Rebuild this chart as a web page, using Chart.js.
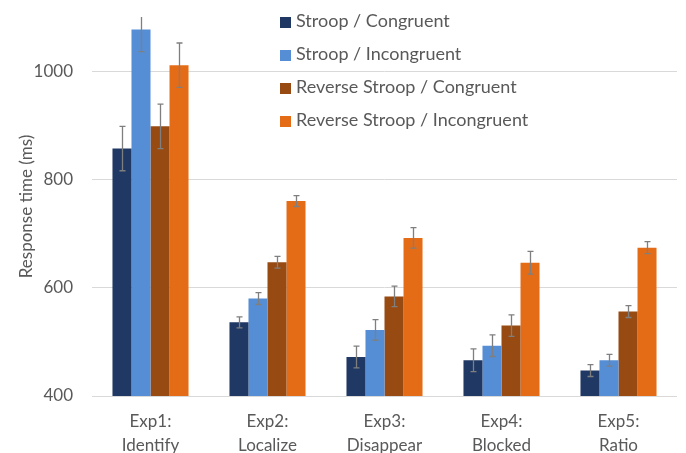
<!DOCTYPE html>
<html>
<head>
<meta charset="utf-8">
<script src="https://cdn.jsdelivr.net/npm/chart.js@4.4.1/dist/chart.umd.min.js"></script>
<style>
  html, body { margin: 0; padding: 0; background: #fff; }
  #wrap { position: relative; width: 686px; height: 453px; }
  #legend { position: absolute; left: 280px; top: 7px; font-family: Lato, sans-serif; font-size: 18px; color: #595959; }
  #legend .row { height: 33px; line-height: 26px; white-space: nowrap; }
  #legend .sw { display: inline-block; width: 11px; height: 11px; margin-right: 5px; vertical-align: -1px; }
</style>
</head>
<body>
<div id="wrap">
  <canvas id="chart" width="686" height="453"></canvas>
  <div id="legend"></div>
</div>
<script>
const categories = [['Exp1:', 'Identify'], ['Exp2:', 'Localize'], ['Exp3:', 'Disappear'], ['Exp4:', 'Blocked'], ['Exp5:', 'Ratio']];
const seriesNames = ['Stroop / Congruent', 'Stroop / Incongruent', 'Reverse Stroop / Congruent', 'Reverse Stroop / Incongruent'];
const seriesColors = ['#1F3864', '#558ED5', '#974A12', '#E46C17'];

const stroopCongruent = [857, 536, 472, 466, 447];
const stroopIncongruent = [1077, 580, 522, 493, 466];
const reverseCongruent = [898, 647, 584, 530, 556];
const reverseIncongruent = [1011, 760, 692, 646, 674];

// error bar half-lengths (ms)
const stroopCongruentErr = [41, 10, 20, 21, 11];
const stroopIncongruentErr = [41, 11, 19, 20, 11];
const reverseCongruentErr = [41, 11, 19, 20, 11];
const reverseIncongruentErr = [41, 10, 19, 21, 11];

const yTicks = [400, 600, 800, 1000];

const values = [stroopCongruent, stroopIncongruent, reverseCongruent, reverseIncongruent];
const errors = [stroopCongruentErr, stroopIncongruentErr, reverseCongruentErr, reverseIncongruentErr];

const textColor = '#595959';
const font = { family: 'Lato, sans-serif', size: 17 };

// draws the error bars from the bar elements + y scale, clipped to the plot area like Excel
const errorBars = {
  id: 'errorBars',
  afterDatasetsDraw(chart) {
    const { ctx, chartArea, scales: { y } } = chart;
    ctx.save();
    ctx.beginPath();
    ctx.rect(chartArea.left, chartArea.top, chartArea.right - chartArea.left, chartArea.bottom - chartArea.top);
    ctx.clip();
    ctx.strokeStyle = '#7F7F7F';
    ctx.lineWidth = 1.3;
    chart.data.datasets.forEach((ds, i) => {
      const meta = chart.getDatasetMeta(i);
      meta.data.forEach((bar, j) => {
        const v = ds.data[j], e = errors[i][j];
        const top = y.getPixelForValue(v + e), bot = y.getPixelForValue(v - e);
        const x = Math.round(bar.x) + 0.5;
        ctx.beginPath();
        ctx.moveTo(x, top); ctx.lineTo(x, bot);
        ctx.moveTo(x - 3, top); ctx.lineTo(x + 3, top);
        ctx.moveTo(x - 3, bot); ctx.lineTo(x + 3, bot);
        ctx.stroke();
      });
    });
    ctx.restore();
  }
};

const chart = new Chart(document.getElementById('chart'), {
  type: 'bar',
  data: {
    labels: categories,
    datasets: seriesNames.map((name, i) => ({
      label: name,
      data: values[i],
      backgroundColor: seriesColors[i],
      barPercentage: 1,
      categoryPercentage: 0.65
    }))
  },
  options: {
    responsive: false,
    animation: false,
    layout: { padding: { top: 17, right: 9, left: 0, bottom: 0 } },
    plugins: { legend: { display: false }, tooltip: { enabled: false } },
    scales: {
      x: {
        grid: { display: false, drawTicks: false },
        border: { display: false },
        ticks: { color: textColor, font: { ...font, lineHeight: 1.38 }, padding: 14, maxRotation: 0 },
        afterFit: (s) => { s.height = 57; s.paddingLeft = 0; s.paddingRight = 0; }
      },
      y: {
        min: 400,
        max: 1100,
        grid: { color: '#D9D9D9', drawTicks: false },
        border: { display: false },
        afterBuildTicks: (s) => { s.ticks = yTicks.map(v => ({ value: v })); },
        ticks: { color: textColor, font, padding: 19, callback: (v) => String(v) },
        title: { display: true, text: 'Response time (ms)', color: textColor, font, padding: { top: 16, bottom: 0 } },
        afterFit: (s) => { s.width = 92; s.paddingTop = 0; s.paddingBottom = 0; }
      }
    }
  },
  plugins: [errorBars]
});

// legend as html, built from the series arrays
const legend = document.getElementById('legend');
seriesNames.forEach((name, i) => {
  const row = document.createElement('div'); row.className = 'row';
  row.innerHTML = `<span class="sw" style="background:${seriesColors[i]}"></span>${name}`;
  legend.appendChild(row);
});
</script>
</body>
</html>
